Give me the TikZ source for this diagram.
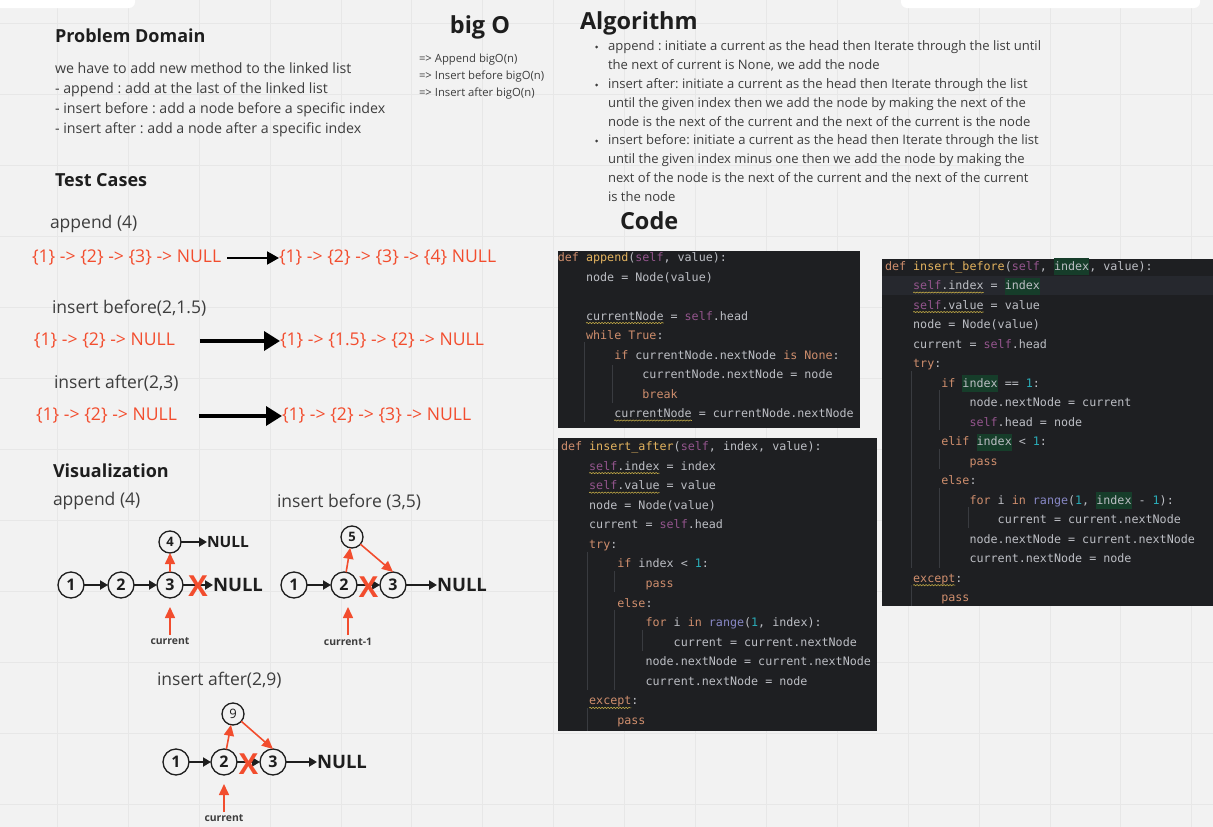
\documentclass[tikz,border=0pt]{standalone}
\usepackage{fontspec}
\setmainfont{Open Sans}
\setmonofont{DejaVu Sans Mono}
\usepackage{xcolor}
\usetikzlibrary{arrows.meta, positioning, calc, decorations.pathmorphing}

\definecolor{boardbg}{HTML}{F2F2F2}
\definecolor{gridln}{HTML}{E7E7E7}
\definecolor{inkdark}{HTML}{1E1E1E}
\definecolor{inkbody}{HTML}{3D3D3D}
\definecolor{mirored}{HTML}{F24D2E}
\definecolor{codebg}{HTML}{1E1F22}
\definecolor{codeline}{HTML}{26282E}
\definecolor{codetxt}{HTML}{BCBEC4}
\definecolor{codekw}{HTML}{CF8E6D}
\definecolor{codeself}{HTML}{94558D}
\definecolor{codefn}{HTML}{E3B35F}
\definecolor{codenum}{HTML}{2AACB8}
\definecolor{codebi}{HTML}{8888C6}
\definecolor{codehl}{HTML}{163D2A}
\definecolor{codeguide}{HTML}{393B40}
\definecolor{codewavy}{HTML}{C0A846}

\newcommand{\ckw}[1]{\textcolor{codekw}{#1}}
\newcommand{\cself}[1]{\textcolor{codeself}{#1}}
\newcommand{\cfn}[1]{\textcolor{codefn}{#1}}
\newcommand{\cnum}[1]{\textcolor{codenum}{#1}}
\newcommand{\cbi}[1]{\textcolor{codebi}{#1}}
\newcommand{\chl}[1]{{\setlength{\fboxsep}{0pt}\colorbox{codehl}{\rule[-5pt]{0pt}{17pt}#1}}}
\frenchspacing

\begin{document}
\begin{tikzpicture}[x=1pt, y=-1pt,
    every node/.style={inner sep=0pt, outer sep=0pt},
    hdr/.style={anchor=west, font=\fontsize{18}{22}\selectfont\bfseries, text=inkdark},
    bigttl/.style={font=\fontsize{23.5}{28}\selectfont\bfseries, text=inkdark},
    bodytxt/.style={anchor=north west, align=left, text=inkbody},
    casettl/.style={anchor=west, font=\fontsize{17.5}{21}\selectfont, text=inkbody},
    redlist/.style={anchor=west, font=\fontsize{17.6}{21}\selectfont, text=mirored},
    caseflow/.style={-{Triangle[length=12pt,width=13pt]}, line width=2pt, draw=black},
    caseflowbig/.style={-{Triangle[length=16pt,width=19pt]}, line width=3.5pt, draw=black},
    bulletdot/.style={circle, fill=inkbody, minimum size=3pt},
    lnode/.style={circle, draw=inkdark, line width=1.3pt, fill=boardbg, minimum size=26pt, font=\fontsize{16}{18}\selectfont\bfseries, text=inkdark},
    lsmall/.style={lnode, minimum size=22pt, font=\fontsize{13}{15}\selectfont\bfseries},
    nullbig/.style={anchor=west, font=\fontsize{18.5}{22}\selectfont\bfseries, text=inkdark},
    nullsm/.style={anchor=west, font=\fontsize{15.5}{18}\selectfont\bfseries, text=inkdark},
    nextarr/.style={-{Triangle[length=8pt,width=9pt]}, line width=2.4pt, draw=inkdark},
    ptr/.style={-{Triangle[length=11pt,width=10pt]}, line width=1.6pt, draw=mirored},
    redx/.style={font=\fontsize{29}{30}\selectfont\bfseries, text=mirored},
    ptrlbl/.style={font=\fontsize{10.4}{12}\selectfont\bfseries, text=inkbody},
    codeln/.style={anchor=base west, font=\ttfamily\fontsize{11.7}{14}\selectfont, text=codetxt},
    indguide/.style={draw=codeguide, line width=0.8pt},
    squiggle/.style={draw=codewavy, line width=0.6pt, decorate, decoration={snake, amplitude=0.6pt, segment length=3pt}}
]
% ============== board ==============
\useasboundingbox (0,0) rectangle (1213,827);
\fill[boardbg] (0,0) rectangle (1213,827);
\foreach \gx in {57.3,128.2,...,1213} \draw[gridln, line width=0.8pt] (\gx,0) -- (\gx,827);
\foreach \gy in {23,94,...,827} \draw[gridln, line width=0.8pt] (0,\gy) -- (1213,\gy);
\fill[white, rounded corners=6pt] (-10,-10) rectangle (135,8);
\fill[white, rounded corners=6pt] (901,-10) rectangle (1200,8);

% ============== Problem Domain ==============
\node[hdr] (pdh) at (55,36) {Problem Domain};
\node[bodytxt, font=\fontsize{14.2}{20}\selectfont] (pdtxt) at (55,62.5) {we have to add new method to the linked list\\- append : add at the last of the linked list\\- insert before : add a node before a specific index\\- insert after : add a node after a specific index};

% ============== big O ==============
\node[bigttl] (boh) at (480,27) {big O};
\node[bodytxt, font=\fontsize{11.3}{17}\selectfont] (botxt) at (419,53.6) {=> Append bigO(n)\\=> Insert before bigO(n)\\=> Insert after bigO(n)};

% ============== Algorithm ==============
\node[bigttl, anchor=west] (algh) at (580,23) {Algorithm};
\node[bulletdot] (bl1) at (596.5,47) {};
\node[bulletdot] (bl2) at (596.5,85) {};
\node[bulletdot] (bl3) at (596.5,141) {};
\node[bodytxt, font=\fontsize{13.06}{18.75}\selectfont] (alg1) at (608,41) {append : initiate a current as the head then Iterate through the list until\\the next of current is None, we add the node};
\node[bodytxt, font=\fontsize{13.06}{18.75}\selectfont] (alg2) at (608,79) {insert after: initiate a current as the head then Iterate through the list\\until the given index then we add the node by making the next of the\\node is the next of the current and the next of the current is the node};
\node[bodytxt, font=\fontsize{13.06}{18.75}\selectfont] (alg3) at (608,135) {insert before: initiate a current as the head then Iterate through the list\\until the given index minus one then we add the node by making the\\next of the node is the next of the current and the next of the current\\is the node};
\node[bigttl, anchor=west] (codeh) at (620,221) {Code};

% ============== Test Cases ==============
\node[hdr] (tch) at (55,180) {Test Cases};
\node[casettl] (tc1t) at (50,224) {append (4)};
\node[redlist] (tc1l) at (32,258) {\{1\} -> \{2\} -> \{3\} -> NULL};
\node[redlist] (tc1r) at (279,258) {\{1\} -> \{2\} -> \{3\} -> \{4\} NULL};
\node[casettl] (tc2t) at (52,308) {insert before(2,1.5)};
\node[redlist] (tc2l) at (34,341) {\{1\} -> \{2\} -> NULL};
\node[redlist] (tc2r) at (280,341) {\{1\} -> \{1.5\} -> \{2\} -> NULL};
\node[casettl] (tc3t) at (54,383) {insert after(2,3)};
\node[redlist] (tc3l) at (36,416) {\{1\} -> \{2\} -> NULL};
\node[redlist] (tc3r) at (282,416) {\{1\} -> \{2\} -> \{3\} -> NULL};

\draw[caseflow, shorten <=6pt] (tc1l.east) -- (tc1r.west);
\draw[caseflowbig, shorten <=25pt] (tc2l.east) -- (tc2r.west);
\draw[caseflowbig, shorten <=22pt] (tc3l.east) -- (tc3r.west);

% ============== Visualization ==============
\node[hdr] (vizh) at (53,471) {Visualization};
\node[casettl] (vapp) at (53,501) {append (4)};
\node[casettl] (vbef) at (277,502) {insert before (3,5)};
\node[casettl] (vaft) at (157,680) {insert after(2,9)};

% append (4)
\node[lnode] (n1a) at (71,585) {1};
\node[lnode, right=24pt of n1a] (n2a) {2};
\node[lnode, right=23pt of n2a] (n3a) {3};
\node[lsmall, above=19pt of n3a] (n4a) {4};
\node[nullsm, right=26pt of n4a] (null4a) {NULL};
\node[nullbig, right=30pt of n3a] (nulla) {NULL};
\node[ptrlbl, below=40pt of n3a] (cura) {current};
\draw[nextarr] (n1a) -- (n2a);
\draw[nextarr] (n2a) -- (n3a);
\draw[nextarr] (n3a) -- (nulla);
\draw[nextarr] (n4a) -- (null4a);
\draw[ptr] (n3a) -- (n4a);
\draw[ptr, shorten <=3pt, shorten >=9pt] (cura.north) -- (n3a.south);
\node[redx] (xa) at ($(n3a.east)!0.5!(nulla.west)+(0,1)$) {X};

% insert before (3,5)
\node[lnode] (m1) at (294,585) {1};
\node[lnode, right=24pt of m1] (m2) {2};
\node[lnode, right=23pt of m2] (m3) {3};
\node[lsmall, above=24pt of m2, xshift=8pt] (m5) {5};
\node[nullbig, right=31pt of m3] (nullb) {NULL};
\node[ptrlbl, below=40pt of m2, xshift=4pt] (curb) {current-1};
\draw[nextarr] (m1) -- (m2);
\draw[nextarr] (m2) -- (m3);
\draw[nextarr] (m3) -- (nullb);
\draw[ptr] (m2) -- (m5);
\draw[ptr] (m5) -- (m3.north);
\draw[ptr, shorten <=3pt, shorten >=9pt] (curb.north) -- ([xshift=4pt]m2.south);
\node[redx] (xb) at ($(m2.east)!0.5!(m3.west)+(0,2)$) {X};

% insert after(2,9)
\node[lnode] (k1) at (176,762) {1};
\node[lnode, right=22pt of k1] (k2) {2};
\node[lnode, right=23pt of k2] (k3) {3};
\node[lsmall, above=24pt of k2, xshift=9pt, font=\fontsize{13}{15}\selectfont] (k9) {9};
\node[nullbig, right=31pt of k3] (nullc) {NULL};
\node[ptrlbl, below=40pt of k2] (curc) {current};
\draw[nextarr] (k1) -- (k2);
\draw[nextarr] (k2) -- (k3);
\draw[nextarr] (k3) -- (nullc);
\draw[ptr] (k2) -- (k9);
\draw[ptr] (k9) -- (k3.north);
\draw[ptr, shorten <=3pt, shorten >=9pt] (curc.north) -- (k2.south);
\node[redx] (xc) at ($(k2.east)!0.5!(k3.west)+(0,2)$) {X};

% ============== Code: append ==============
\fill[codebg] (557.5,250.5) rectangle (860,428);
\foreach \lvl/\row/\src in {
  0/0/{\ckw{def} \cfn{append}(\cself{self}, value):},
  4/1/{node = Node(value)},
  4/3/{currentNode = \cself{self}.head},
  4/4/{\ckw{while} \ckw{True}:},
  8/5/{\ckw{if} currentNode.nextNode \ckw{is} \ckw{None}:},
  12/6/{currentNode.nextNode = node},
  12/7/{\ckw{break}},
  8/8/{currentNode = currentNode.nextNode}}
  \node[codeln] (ap\row) at (557.9+\lvl*7.044, 261.5+\row*19.5) {\src};
\draw[indguide] (584.6,342) -- (584.6,422);
\draw[indguide] (612.6,365) -- (612.6,403);
\draw[squiggle] ([yshift=-3pt]ap3.base west) -- ++(77.5,0);
\draw[squiggle] ([yshift=-3pt]ap8.base west) -- ++(77.5,0);

% ============== Code: insert_after ==============
\fill[codebg] (558,437.5) rectangle (876.5,731);
\foreach \lvl/\row/\src in {
  0/0/{\ckw{def} \cfn{insert\_after}(\cself{self}, index, value):},
  4/1/{\cself{self}.index = index},
  4/2/{\cself{self}.value = value},
  4/3/{node = Node(value)},
  4/4/{current = \cself{self}.head},
  4/5/{\ckw{try}:},
  8/6/{\ckw{if} index < \cnum{1}:},
  12/7/{\ckw{pass}},
  8/8/{\ckw{else}:},
  12/9/{\ckw{for} i \ckw{in} \cbi{range}(\cnum{1}, index):},
  16/10/{current = current.nextNode},
  12/11/{node.nextNode = current.nextNode},
  12/12/{current.nextNode = node},
  4/13/{\ckw{except}:},
  8/14/{\ckw{pass}}}
  \node[codeln] (ia\row) at (561+\lvl*7.044, 450.5+\row*19.57) {\src};
\draw[indguide] (587.7,551.5) -- (587.7,690);
\draw[indguide] (614.4,571) -- (614.4,592);
\draw[indguide] (614.4,610) -- (614.4,690);
\draw[indguide] (642.5,629.5) -- (642.5,651);
\draw[indguide] (587.7,708) -- (587.7,731);
\draw[squiggle] ([yshift=-3pt]ia1.base west) -- ++(70.4,0);
\draw[squiggle] ([yshift=-3pt]ia2.base west) -- ++(70.4,0);
\draw[squiggle] ([yshift=-3pt]ia13.base west) -- ++(42.3,0);

% ============== Code: insert_before ==============
\fill[codebg] (881.5,258.5) rectangle (1213,605.5);
\fill[codeline] (881.5,275.5) rectangle (1213,294.5);
\foreach \lvl/\row/\src in {
  0/0/{\ckw{def} \cfn{insert\_before}(\cself{self}, \chl{index}, value):},
  4/1/{\cself{self}.index = \chl{index}},
  4/2/{\cself{self}.value = value},
  4/3/{node = Node(value)},
  4/4/{current = \cself{self}.head},
  4/5/{\ckw{try}:},
  8/6/{\ckw{if} \chl{index} == \cnum{1}:},
  12/7/{node.nextNode = current},
  12/8/{\cself{self}.head = node},
  8/9/{\ckw{elif} \chl{index} < \cnum{1}:},
  12/10/{\ckw{pass}},
  8/11/{\ckw{else}:},
  12/12/{\ckw{for} i \ckw{in} \cbi{range}(\cnum{1}, \chl{index} - \cnum{1}):},
  16/13/{current = current.nextNode},
  12/14/{node.nextNode = current.nextNode},
  12/15/{current.nextNode = node},
  4/16/{\ckw{except}:},
  8/17/{\ckw{pass}}}
  \node[codeln] (ib\row) at (885+\lvl*7.044, 270+\row*19.51) {\src};
\draw[indguide] (911.7,371) -- (911.7,567.5);
\draw[indguide] (939.3,390) -- (939.3,430);
\draw[indguide] (939.3,449) -- (939.3,469);
\draw[indguide] (939.3,488) -- (939.3,567.5);
\draw[indguide] (968,507) -- (968,528);
\draw[indguide] (911.7,585) -- (911.7,605.5);
\draw[squiggle] ([yshift=-3pt]ib1.base west) -- ++(70.4,0);
\draw[squiggle] ([yshift=-3pt]ib2.base west) -- ++(70.4,0);
\draw[squiggle] ([yshift=-3pt]ib16.base west) -- ++(42.3,0);
\end{tikzpicture}
\end{document}
